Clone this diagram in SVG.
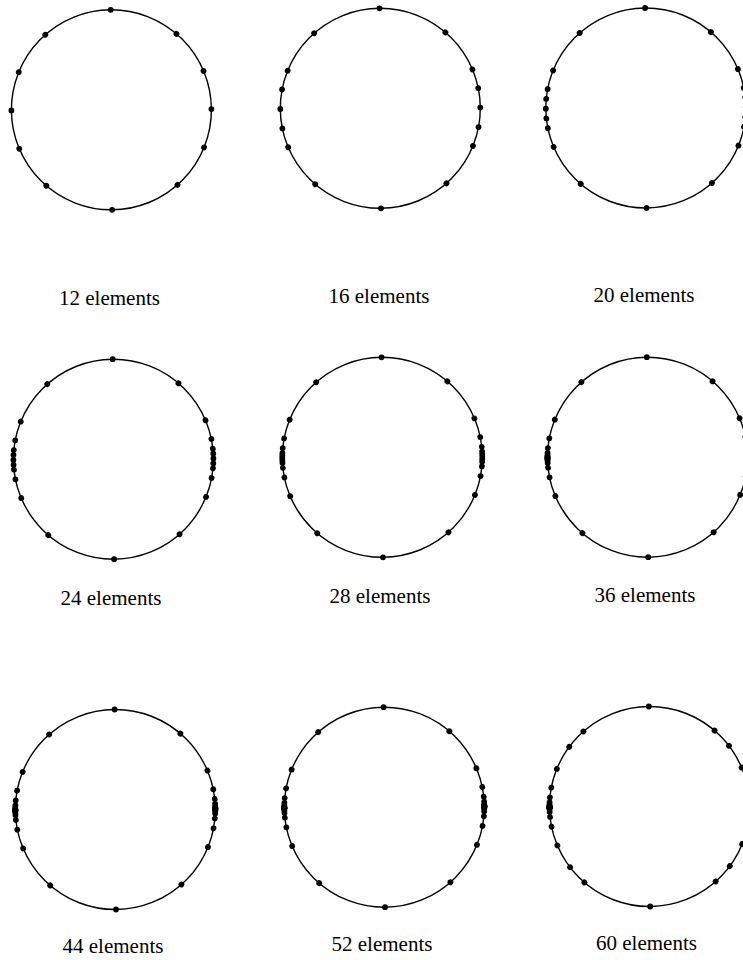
<svg xmlns="http://www.w3.org/2000/svg" xmlns:xlink="http://www.w3.org/1999/xlink" width="743" height="960" viewBox="0 0 743 960">
<style>
.ring{fill:none;stroke:#000;stroke-width:1.4}
.lbl{font-family:"Liberation Serif","DejaVu Serif",serif;font-size:21px;fill:#000;text-anchor:middle}
</style>
<defs>
<circle id="d" cx="100" cy="0" r="2.9" fill="#000"/>
<g id="s12"><use href="#d"/><use href="#d" transform="rotate(22.5)"/><use href="#d" transform="rotate(-22.5)"/><use href="#d" transform="rotate(49)"/><use href="#d" transform="rotate(-49)"/></g>
<g id="s16"><use href="#s12"/><use href="#d" transform="rotate(11.25)"/><use href="#d" transform="rotate(-11.25)"/></g>
<g id="s20"><use href="#s16"/><use href="#d" transform="rotate(5.625)"/><use href="#d" transform="rotate(-5.625)"/></g>
<g id="s24"><use href="#s20"/><use href="#d" transform="rotate(2.8125)"/><use href="#d" transform="rotate(-2.8125)"/></g>
<g id="s28"><use href="#s24"/><use href="#d" transform="rotate(1.406)"/><use href="#d" transform="rotate(-1.406)"/></g>
<g id="s36"><use href="#s28"/><use href="#d" transform="rotate(0.703)"/><use href="#d" transform="rotate(-0.703)"/><use href="#d" transform="rotate(0.352)"/><use href="#d" transform="rotate(-0.352)"/></g>
<g id="s44"><use href="#s36"/><use href="#d" transform="rotate(0.176)"/><use href="#d" transform="rotate(-0.176)"/><use href="#d" transform="rotate(0.088)"/><use href="#d" transform="rotate(-0.088)"/></g>
<g id="s52"><use href="#s44"/><use href="#d" transform="rotate(0.044)"/><use href="#d" transform="rotate(-0.044)"/><use href="#d" transform="rotate(0.022)"/><use href="#d" transform="rotate(-0.022)"/></g>
<g id="s60"><use href="#s52"/><use href="#d" transform="rotate(37)"/><use href="#d" transform="rotate(-37)"/><use href="#d" transform="rotate(0.011)"/><use href="#d" transform="rotate(-0.011)"/></g>
<g id="poles"><use href="#d" transform="rotate(90)"/><use href="#d" transform="rotate(-90)"/></g>
</defs>

<g id="n12" transform="translate(111.4 109.8) rotate(-0.4)">
<circle class="ring" r="100"/><use href="#poles"/><use href="#s12"/><use href="#s12" transform="rotate(180)"/>
</g>
<g id="n16" transform="translate(380.3 108.3) rotate(-0.4)">
<circle class="ring" r="100"/><use href="#poles"/><use href="#s16"/><use href="#s16" transform="rotate(180)"/>
</g>
<g id="n20" transform="translate(645.8 108) rotate(-0.4)">
<circle class="ring" r="100"/><use href="#poles"/><use href="#s20"/><use href="#s20" transform="rotate(180)"/>
</g>
<g id="n24" transform="translate(113.4 459.2) rotate(-0.4)">
<circle class="ring" r="100"/><use href="#poles"/><use href="#s24"/><use href="#s24" transform="rotate(180)"/>
</g>
<g id="n28" transform="translate(382.3 457.3) rotate(-0.4)">
<circle class="ring" r="100"/><use href="#poles"/><use href="#s28"/><use href="#s28" transform="rotate(180)"/>
</g>
<g id="n36" transform="translate(647.5 457.2) rotate(-0.4)">
<circle class="ring" r="100"/><use href="#poles"/><use href="#s36"/><use href="#s36" transform="rotate(180)"/>
</g>
<g id="n44" transform="translate(115.3 809.5) rotate(-0.4)">
<circle class="ring" r="100"/><use href="#poles"/><use href="#s44"/><use href="#s44" transform="rotate(180)"/>
</g>
<g id="n52" transform="translate(384.3 807.2) rotate(-0.4)">
<circle class="ring" r="100"/><use href="#poles"/><use href="#s52"/><use href="#s52" transform="rotate(180)"/>
</g>
<g id="n60" transform="translate(649.5 806.5) rotate(-0.4)">
<circle class="ring" r="100"/><use href="#poles"/><use href="#s60"/><use href="#s60" transform="rotate(180)"/>
</g>

<g id="labels">
<text class="lbl" x="109.5" y="305">12 elements</text>
<text class="lbl" x="379" y="303">16 elements</text>
<text class="lbl" x="644" y="302">20 elements</text>
<text class="lbl" x="111" y="605">24 elements</text>
<text class="lbl" x="380" y="603">28 elements</text>
<text class="lbl" x="645" y="602">36 elements</text>
<text class="lbl" x="113" y="953">44 elements</text>
<text class="lbl" x="382" y="951">52 elements</text>
<text class="lbl" x="646.5" y="950">60 elements</text>
</g>
</svg>
